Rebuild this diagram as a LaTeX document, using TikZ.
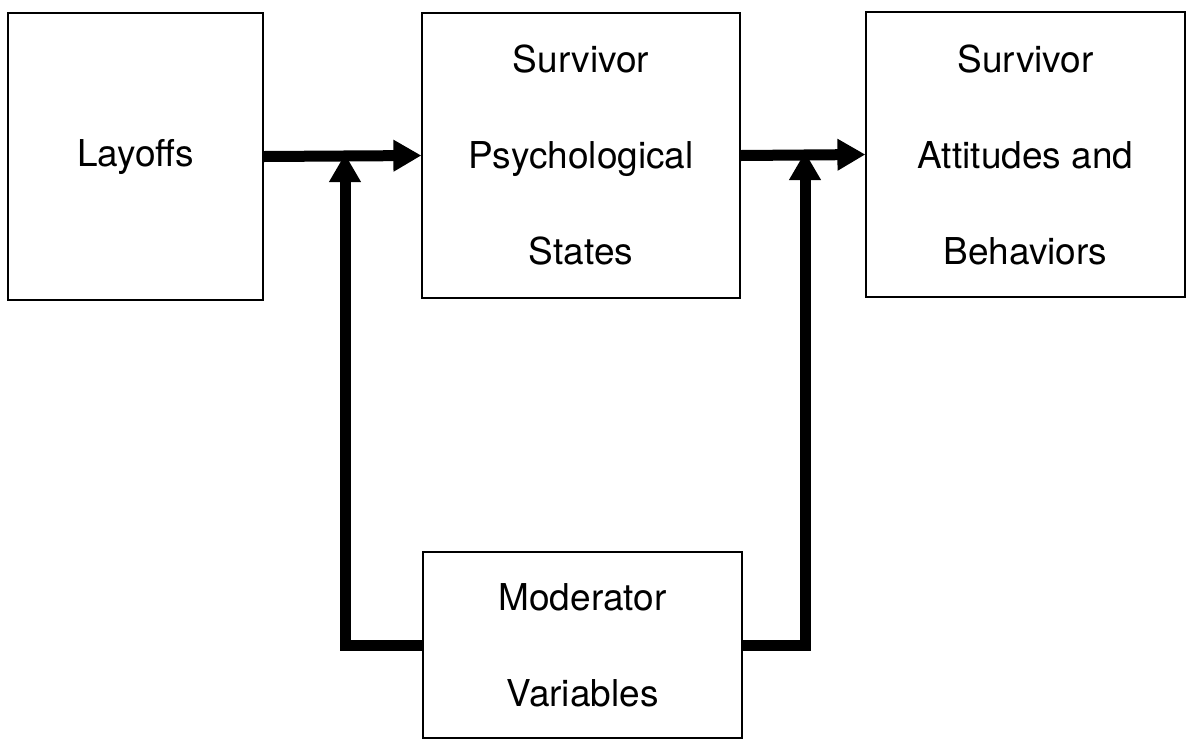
\documentclass[tikz,border=0pt]{standalone}
\usepackage{fontspec}
\setmainfont{TeX Gyre Heros}
\usetikzlibrary{arrows.meta}

\begin{document}
\begin{tikzpicture}[x=1pt,y=-1pt,
    box/.style={draw,line width=1.2pt,inner sep=0pt,align=center,
      font=\fontsize{37}{96}\selectfont},
    bigarrow/.style={line width=11pt,-{Triangle[length=28pt,width=30pt]}}]
  \useasboundingbox (0,0) rectangle (1190,740);

  \node[box,minimum width=255pt,minimum height=287pt] (layoffs) at (135.5,156.5) {Layoffs};
  \node[box,minimum width=318pt,minimum height=285pt] (states) at (581,155.5)
    {Survivor\\Psychological\\States};
  \node[box,minimum width=319pt,minimum height=285pt] (attitudes) at (1025.5,154.5)
    {Survivor\\Attitudes and\\Behaviors};
  \node[box,minimum width=319pt,minimum height=186pt] (moderator) at (582.5,645)
    {Moderator\\Variables};

  \coordinate (jl) at (345,154);
  \coordinate (jr) at (805,152);

  \draw[bigarrow] (layoffs.east) -- (states.west);
  \draw[bigarrow] (states.east) -- (attitudes.west);
  \draw[bigarrow] (moderator.west) -| (jl);
  \draw[bigarrow] (moderator.east) -| (jr);
\end{tikzpicture}
\end{document}
